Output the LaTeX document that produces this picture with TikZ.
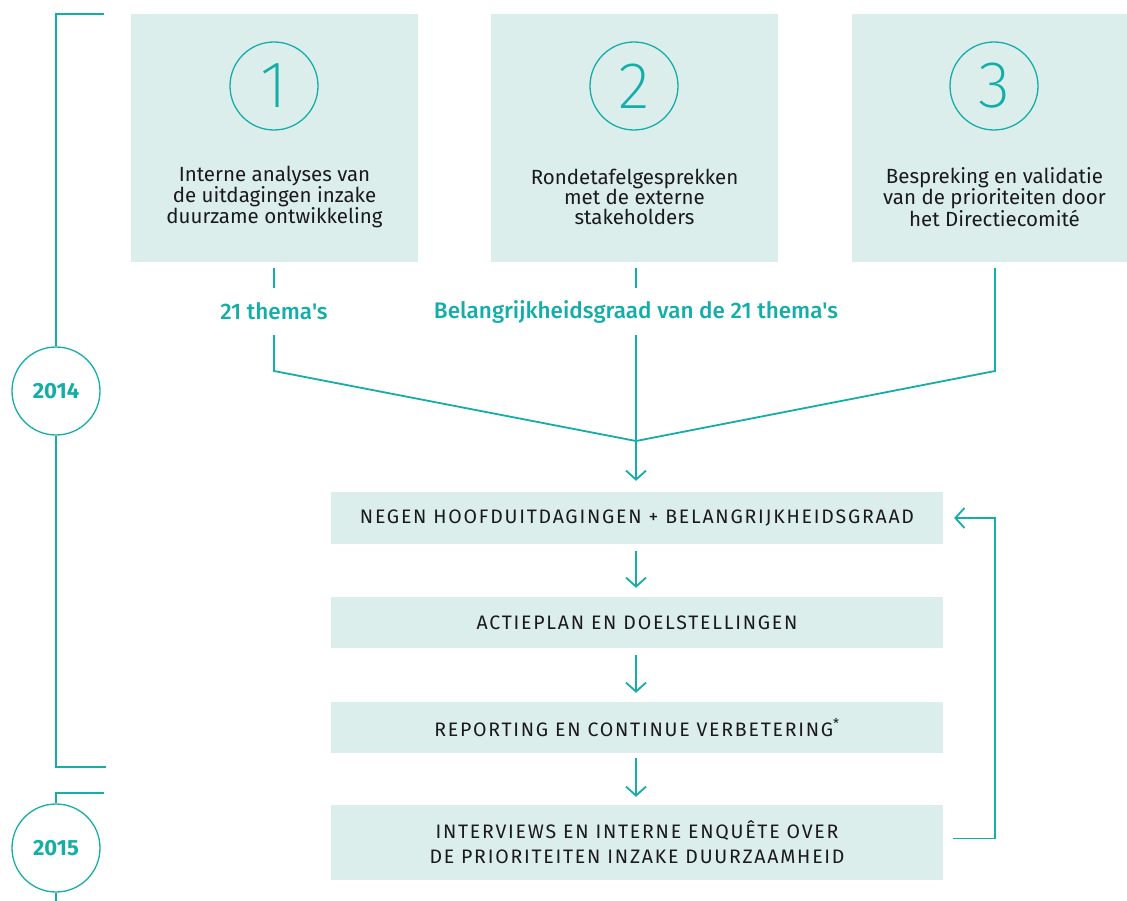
\documentclass[tikz,border=0pt]{standalone}
\usepackage{fontspec}
\setmainfont{Fira Sans}
\newfontfamily\thinfont{Fira Sans ExtraLight}
\newfontfamily\medfont{Fira Sans Medium}
\newfontfamily\capfont{Fira Sans}[LetterSpace=9]
\usetikzlibrary{arrows.meta}
\definecolor{tealc}{HTML}{14ADA8}
\definecolor{boxfill}{HTML}{DCEEEC}
\definecolor{ink}{HTML}{1A1A1A}
\tikzset{
  conn/.style={draw=tealc, line width=1.8pt},
  arr/.style={conn, -{Straight Barb[length=9pt,width=20pt,line width=1.8pt]}},
  tl/.style={draw=tealc, line width=1.4pt},
  topbox/.style={fill=boxfill, draw=none, minimum width=287pt, minimum height=248pt, inner sep=0pt},
  numc/.style={circle, draw=tealc, line width=1.3pt, minimum size=88pt, inner sep=0pt, text=tealc, font=\thinfont\fontsize{66}{66}\selectfont},
  toptext/.style={align=center, text=ink, font=\fontsize{20.5}{20}\selectfont, inner sep=0pt},
  lbl/.style={text=tealc, font=\medfont\fontsize{22.5}{24}\selectfont, inner sep=0pt, minimum height=47pt},
  stepbox/.style={fill=boxfill, draw=none, minimum width=612pt, inner sep=0pt, align=center, text=ink, font=\capfont\fontsize{19.5}{25}\selectfont},
  yearc/.style={circle, draw=tealc, fill=white, line width=1.3pt, minimum size=88pt, inner sep=0pt, text=tealc, font=\bfseries\fontsize{22}{24}\selectfont},
}
\begin{document}
\begin{tikzpicture}[x=1pt,y=-1pt]
\useasboundingbox[fill=white] (0,0) rectangle (1127,901);
% top boxes
\node[topbox] (b1) at (274.5,138) {};
\node[topbox] (b2) at (634.5,138) {};
\node[topbox] (b3) at (995,138) {};
\node[numc] (c1) at (274,86) {1};
\node[numc] (c2) at (634,86) {2};
\node[numc] (c3) at (994,86) {3};
\node[toptext] (t1) at (274.5,197) {Interne analyses van\\de uitdagingen inzake\\duurzame ontwikkeling};
\node[toptext] (t2) at (634.5,197) {Rondetafelgesprekken\\met de externe\\stakeholders};
\node[toptext] (t3) at (994.5,197) {Bespreking en validatie\\van de prioriteiten door\\het Directiecomité};
% labels
\node[lbl] (l1) at (274,311.5) {21 thema's};
\node[lbl] (l2) at (636,311.5) {Belangrijkheidsgraad van de 21 thema's};
% steps
\node[stepbox, minimum height=52pt] (sA) at (637,518) {NEGEN HOOFDUITDAGINGEN + BELANGRIJKHEIDSGRAAD};
\node[stepbox, minimum height=51pt] (sB) at (637,622.5) {ACTIEPLAN EN DOELSTELLINGEN};
\node[stepbox, minimum height=51pt] (sC) at (637,727.5) {REPORTING EN CONTINUE VERBETERING\textsuperscript{*}};
\node[stepbox, minimum height=75pt] (sD) at (637,842.5) {INTERVIEWS EN INTERNE ENQUÊTE OVER\\DE PRIORITEITEN INZAKE DUURZAAMHEID};
% merge coordinates
\coordinate (m) at (636,441);
\coordinate (k1) at (274,371);
\coordinate (k3) at (995,371);
\coordinate (fb) at (995,0);
% connectors
\draw[conn] ([yshift=-6pt]b1.south -| l1) -- (l1.north);
\draw[conn] ([yshift=-6pt]b2.south -| l2) -- (l2.north);
\draw[conn] (l1.south) -- (k1) -- (m);
\draw[conn] (l2.south) -- (m);
\draw[conn] ([yshift=-6pt]b3.south) -- (k3) -- (m);
\draw[arr, shorten >=11pt] (m) -- (m |- sA.north);
\draw[arr, shorten <=7pt, shorten >=9pt] (sA.south -| m) -- (sB.north -| m);
\draw[arr, shorten <=7pt, shorten >=9pt] (sB.south -| m) -- (sC.north -| m);
\draw[arr, shorten <=5pt, shorten >=8pt] (sC.south -| m) -- (sD.north -| m);
\draw[arr, shorten <=10pt, shorten >=11pt] ([yshift=4pt]sD.east) -- ([yshift=4pt]sD.east -| fb) -- (sA.east -| fb) -- (sA.east);
% timeline
\node[yearc] (y14) at (56,391) {2014};
\node[yearc] (y15) at (56,848) {2015};
\coordinate (a1) at (104,14);
\coordinate (a2) at (106,767);
\coordinate (a3) at (104,793);
\coordinate (a4) at (56,901);
\draw[tl] (a1) -- (a1 -| y14) -- (y14.north);
\draw[tl] (y14.south) -- (a2 -| y14) -- (a2);
\draw[tl] (a3) -- (a3 -| y15) -- (y15.north);
\draw[tl] (y15.south) -- (a4);
\end{tikzpicture}
\end{document}
